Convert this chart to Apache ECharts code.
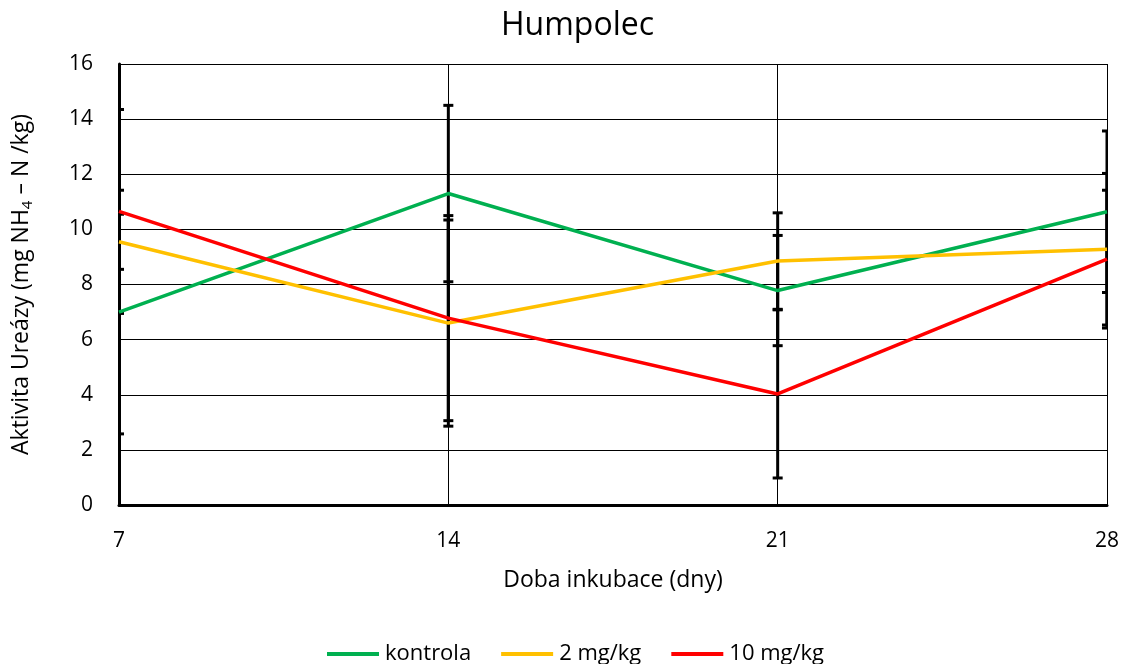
<!DOCTYPE html>
<html>
<head>
<meta charset="utf-8">
<script src="https://cdn.jsdelivr.net/npm/echarts@6/dist/echarts.min.js"></script>
<style>
html, body { margin: 0; padding: 0; background: #fff; }
#chart { width: 1123px; height: 664px; }
</style>
</head>
<body>
<div id="chart"></div>
<script>
// data
var days = [7, 14, 21, 28];
var kontrola = [7.0, 11.3, 7.78, 10.64];
var kontrolaErr = [4.42, 3.2, 2.0, 2.93];
var dose2 = [9.55, 6.6, 8.85, 9.28];
var dose2Err = [1.0, 3.74, 1.75, 2.75];
var dose10 = [10.65, 6.78, 4.03, 8.92];
var dose10Err = [3.7, 3.72, 3.05, 2.5];
var yTicks = [0, 2, 4, 6, 8, 10, 12, 14, 16];

var seriesNames = ['kontrola', '2 mg/kg', '10 mg/kg'];
var seriesColors = ['#00B050', '#FFC000', '#FF0000'];
var seriesValues = [kontrola, dose2, dose10];
var seriesErrors = [kontrolaErr, dose2Err, dose10Err];

var FONT = '"Open Sans", Lato, sans-serif';

function pairs(vals) {
    return days.map(function (d, i) { return [d, vals[i]]; });
}

function errData(vals, errs) {
    return days.map(function (d, i) { return [d, vals[i] - errs[i], vals[i] + errs[i]]; });
}

/**
 * error bar drawing
 */
function renderErr(params, api) {
    var lo = api.coord([api.value(0), api.value(1)]);
    var hi = api.coord([api.value(0), api.value(2)]);
    var w = 5;
    var st = { stroke: '#000', lineWidth: 3 };
    return {
        type: 'group',
        children: [
            { type: 'line', shape: { x1: lo[0], y1: lo[1], x2: hi[0], y2: hi[1] }, style: st },
            { type: 'line', shape: { x1: lo[0] - w, y1: lo[1], x2: lo[0] + w, y2: lo[1] }, style: st },
            { type: 'line', shape: { x1: hi[0] - w, y1: hi[1], x2: hi[0] + w, y2: hi[1] }, style: st }
        ]
    };
}

var series = [];
seriesNames.forEach(function (name, k) {
    series.push({
        name: name + '_err',
        type: 'custom',
        renderItem: renderErr,
        data: errData(seriesValues[k], seriesErrors[k]),
        clip: true,
        z: 2,
        silent: true
    });
});
seriesNames.forEach(function (name, k) {
    series.push({
        name: name,
        type: 'line',
        data: pairs(seriesValues[k]),
        symbol: 'none',
        lineStyle: { color: seriesColors[k], width: 3.5 },
        itemStyle: { color: seriesColors[k] },
        z: 3
    });
});

var option = {
    animation: false,
    backgroundColor: '#fff',
    title: {
        text: 'Humpolec',
        left: 496,
        top: 5,
        textStyle: { fontFamily: FONT, fontSize: 32, fontWeight: 'normal', color: '#000' }
    },
    grid: {
        left: 118,
        right: 16,
        top: 64,
        bottom: 159
    },
    legend: {
        data: seriesNames,
        top: 638,
        left: 322,
        icon: 'rect',
        itemWidth: 52,
        itemHeight: 4,
        itemGap: 30,
        textStyle: { fontFamily: FONT, fontSize: 22, color: '#000', padding: [0, 0, 0, 1] }
    },
    xAxis: {
        type: 'value',
        min: 7,
        max: 28,
        interval: 7,
        name: 'Doba inkubace (dny)',
        nameLocation: 'middle',
        nameGap: 64,
        nameTextStyle: { fontFamily: FONT, fontSize: 23, color: '#000' },
        axisLine: { show: true, lineStyle: { color: '#000', width: 3 } },
        axisTick: { show: false },
        axisLabel: { fontFamily: FONT, fontSize: 21, color: '#000', margin: 26 },
        splitLine: { show: true, lineStyle: { color: '#000', width: 1 } }
    },
    yAxis: {
        type: 'value',
        min: yTicks[0],
        max: yTicks[yTicks.length - 1],
        interval: 2,
        name: 'Aktivita Ureázy (mg NH{sub|4} – N /kg)',
        nameLocation: 'middle',
        nameGap: 84,
        nameTextStyle: {
            fontFamily: FONT, fontSize: 23, color: '#000', lineHeight: 27,
            rich: {
                sub: { fontFamily: FONT, fontSize: 15, color: '#000', verticalAlign: 'bottom', lineHeight: 15 }
            }
        },
        axisLine: { show: true, lineStyle: { color: '#000', width: 3 } },
        axisTick: { show: false },
        axisLabel: { fontFamily: FONT, fontSize: 21, color: '#000', margin: 26 },
        splitLine: { show: true, lineStyle: { color: '#000', width: 1 } }
    },
    series: series
};

var chart = echarts.init(document.getElementById('chart'), null, { renderer: 'canvas' });
chart.setOption(option);
</script>
</body>
</html>
